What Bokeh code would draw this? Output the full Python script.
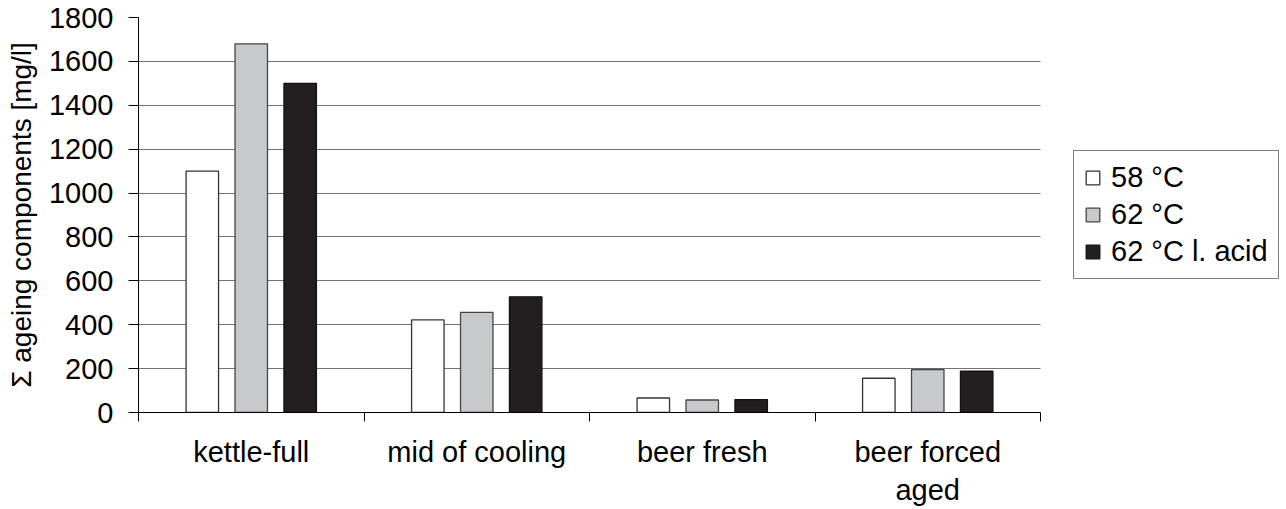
import numpy as np
from bokeh.plotting import figure
from bokeh.models import Range1d, FixedTicker, Legend, LegendItem
from bokeh.embed import file_html
from bokeh.resources import INLINE

categories = ["kettle-full", "mid of cooling", "beer fresh", "beer forced\naged"]
series = ["58 °C", "62 °C", "62 °C l. acid"]
v_58 = [1100, 422, 66, 156]
v_62 = [1680, 456, 57, 196]
v_62_acid = [1500, 527, 59, 188]
y_ticks = [0, 200, 400, 600, 800, 1000, 1200, 1400, 1600, 1800]

FONT = "Liberation Sans"
FS = "29px"

# layout: the plotting area (categories) is 902 px wide; the frame continues to the
# right so that the legend can sit beside the chart without being clipped.
PLOT_W = 902
FRAME_W = 1144
n = len(categories)
x_end = n * FRAME_W / PLOT_W

p = figure(frame_width=FRAME_W, frame_height=395, x_range=Range1d(0, x_end), y_range=Range1d(0, 1800),
           output_backend="svg", toolbar_location=None,
           min_border_left=138, min_border_right=0, min_border_top=17, min_border_bottom=96)
p.outline_line_color = None
p.background_fill_color = "white"
p.border_fill_color = "white"

centers = np.arange(n) + 0.5
offsets = [-0.217, 0.0, 0.217]
fills = ["#ffffff", "#c8c9cb", "#231f20"]
lines = ["#333333", "#444444", "#111111"]
renderers = []
for vals, off, fc, lc in zip([v_58, v_62, v_62_acid], offsets, fills, lines):
    r = p.vbar(x=centers + off, top=vals, bottom=0, width=0.144,
               fill_color=fc, line_color=lc, line_width=1.3)
    renderers.append(r)

# x axis
xa = p.xaxis[0]
xa.bounds = (0, n)
xa.ticker = FixedTicker(ticks=list(centers), minor_ticks=list(range(n + 1)))
xa.major_label_overrides = {float(c): lab for c, lab in zip(centers, categories)}
xa.major_tick_out = 0
xa.major_tick_in = 0
xa.minor_tick_out = 9
xa.minor_tick_in = 0
xa.minor_tick_line_color = "black"
xa.axis_line_color = "black"
xa.major_label_text_font = FONT
xa.major_label_text_font_size = FS
xa.major_label_text_color = "black"
xa.major_label_standoff = 14

# y axis
ya = p.yaxis[0]
ya.ticker = FixedTicker(ticks=y_ticks)
ya.major_tick_out = 10
ya.major_tick_in = 0
ya.minor_tick_line_color = None
ya.axis_line_color = "black"
ya.major_tick_line_color = "black"
ya.major_label_text_font = FONT
ya.major_label_text_font_size = FS
ya.major_label_text_color = "black"
ya.major_label_standoff = 15
ya.axis_label = "Σ ageing components [mg/l]"
ya.axis_label_text_font = FONT
ya.axis_label_text_font_size = "28px"
ya.axis_label_text_font_style = "normal"
ya.axis_label_text_color = "black"
ya.axis_label_standoff = 9

p.xgrid.visible = False
p.ygrid.grid_line_color = "#737373"
p.ygrid.grid_line_width = 1
p.ygrid.cross_bounds = (0, n)

legend = Legend(items=[LegendItem(label=s, renderers=[r]) for s, r in zip(series, renderers)],
                location=(935, 133))
legend.border_line_color = "black"
legend.border_line_width = 1
legend.background_fill_color = "white"
legend.background_fill_alpha = 1
legend.label_text_font = FONT
legend.label_text_font_size = FS
legend.label_text_color = "black"
legend.glyph_width = 17
legend.glyph_height = 17
legend.label_standoff = 10
legend.padding = 10
legend.spacing = 4
legend.margin = 0
p.add_layout(legend)

open("out.html", "w").write(file_html(p, INLINE))
